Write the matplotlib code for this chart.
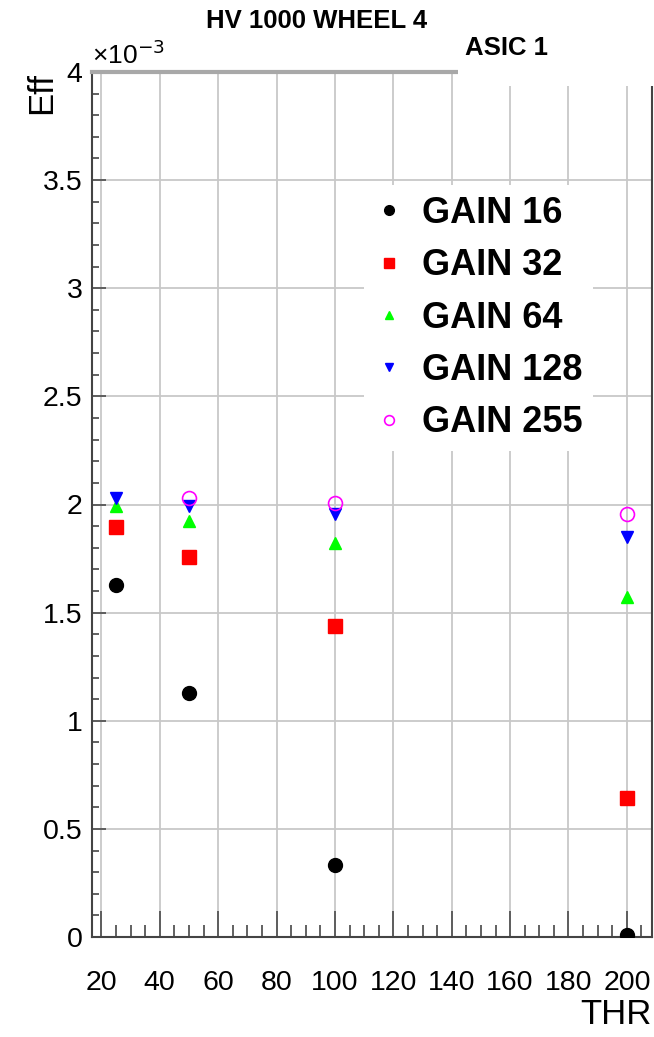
import numpy as np
import matplotlib
matplotlib.use("Agg")
import matplotlib.pyplot as plt
from matplotlib.ticker import MultipleLocator, FuncFormatter
from matplotlib.patches import Rectangle

plt.rcParams['font.family'] = ['Liberation Sans', 'DejaVu Sans']

# data
thr = [25, 50, 100, 200]
gain16 = [1.63e-3, 1.13e-3, 0.333e-3, 0.01e-3]
gain32 = [1.898e-3, 1.755e-3, 1.44e-3, 0.644e-3]
gain64 = [1.995e-3, 1.926e-3, 1.82e-3, 1.574e-3]
gain128 = [2.032e-3, 1.995e-3, 1.954e-3, 1.852e-3]
thr255 = [50, 100, 200]
gain255 = [2.028e-3, 2.005e-3, 1.958e-3]

labels = ["GAIN 16", "GAIN 32", "GAIN 64", "GAIN 128", "GAIN 255"]

W, H = 654, 1037
fig = plt.figure(figsize=(W/100, H/100), dpi=100)
ax = fig.add_axes([92/W, 1-937/H, (652-92)/W, (937-72)/H])

ax.grid(True, color="#c8c8c8", lw=1.3, zorder=0)
ax.set_axisbelow(True)

ax.plot(thr, gain16, 'o', color='black', ms=10, ls='none', label=labels[0], zorder=3)
ax.plot(thr, gain32, 's', color='red', ms=9.5, ls='none', label=labels[1], zorder=3)
ax.plot(thr, gain64, '^', color='#00ff00', ms=9, ls='none', label=labels[2], zorder=3)
ax.plot(thr, gain128, 'v', color='blue', ms=9, ls='none', label=labels[3], zorder=3)
ax.plot(thr255, gain255, 'o', mfc='none', mec='#ff00ff', mew=1.2, ms=10, ls='none', label=labels[4], zorder=3)

ax.set_xlim(16.8, 208.6)
ax.set_ylim(0, 4e-3)

ax.xaxis.set_major_locator(MultipleLocator(20))
ax.xaxis.set_minor_locator(MultipleLocator(5))
ax.yaxis.set_major_locator(MultipleLocator(0.5e-3))
ax.yaxis.set_minor_locator(MultipleLocator(0.1e-3))
ax.yaxis.set_major_formatter(FuncFormatter(lambda v, p: "%g" % round(v*1e3, 3)))

ax.tick_params(axis='x', which='major', direction='in', length=19, width=1.3, color='#555555',
               labelsize=20.5, pad=24)
ax.tick_params(axis='x', which='minor', direction='in', length=9, width=1.3, color='#555555')
ax.tick_params(axis='y', which='major', direction='in', length=10, width=1.3, color='#555555',
               labelsize=20.5, pad=7)
ax.tick_params(axis='y', which='minor', direction='in', length=5, width=1.3, color='#555555')

for s in ['left', 'bottom', 'right']:
    ax.spines[s].set_color('#444444')
    ax.spines[s].set_linewidth(1.5)
ax.spines['top'].set_visible(False)
ax.axhline(4e-3, xmin=0, xmax=(460-92)/(652-92), color='#a8a8a8', lw=3, clip_on=False, zorder=4)

ax.set_xlabel("THR", fontsize=25, loc='right')
ax.xaxis.set_label_coords(1.0, -0.07)
ax.set_ylabel("Eff", fontsize=25, loc='top')
ax.yaxis.set_label_coords(-0.06, 1.0)

ax.text(0.0, 1.004, "\u00d710$^{\\mathrm{-3}}$", transform=ax.transAxes, fontsize=19,
        ha='left', va='bottom')

leg = ax.legend(loc='upper left', bbox_to_anchor=(346/W, 1-167/H), bbox_transform=fig.transFigure,
                prop={'weight': 'bold', 'size': 26}, frameon=True, fancybox=False,
                facecolor='white', edgecolor='none', framealpha=1, handlelength=0.8,
                handletextpad=0.5, labelspacing=0.48, markerscale=0.7, borderpad=0.3)
leg.set_zorder(5)

fig.patches.append(Rectangle((458/W, 1-86/H), (W-458)/W, 60/H, transform=fig.transFigure,
                             facecolor='white', edgecolor='none', zorder=10))
fig.text(317/W, 1-21/H, "HV 1000 WHEEL 4", fontsize=18.5, weight='bold', ha='center', va='center', zorder=11)
fig.text(465/W, 1-48/H, "ASIC 1", fontsize=18.5, weight='bold', ha='left', va='center', zorder=11)

fig.savefig("out.png", dpi=100)
